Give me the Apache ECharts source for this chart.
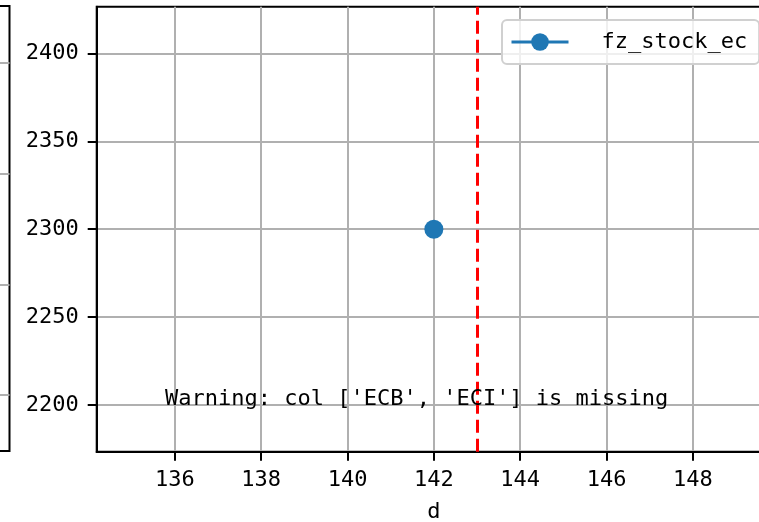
<!DOCTYPE html>
<html>
<head>
<meta charset="utf-8">
<script src="https://cdn.jsdelivr.net/npm/echarts@6/dist/echarts.min.js"></script>
<style>html,body{margin:0;padding:0;background:#fff}#c{width:759px;height:522px}</style>
</head>
<body>
<div id="c"></div>
<script>
// ---- data ----
var seriesName = 'fz_stock_ec';
var stockX = [142];
var stockY = [2300];
var vlineX = [143];
var xTicks = [136, 138, 140, 142, 144, 146, 148];
var yTicks = [2200, 2250, 2300, 2350, 2400];
var xRange = [134.19, 149.81];
var yRange = [2173.5, 2426.5];
var sliverTicks = [56, 166.75, 277.5, 388.25];
var xName = 'd';
var warningText = "Warning: col ['ECB', 'ECI'] is missing";

var FONT = 'DejaVu Sans Mono';
var FS = 22;
var points = stockX.map(function (x, i) { return [x, stockY[i]]; });
function plain(v) { return String(v); }

var chart = echarts.init(document.getElementById('c'), null, {renderer: 'canvas'});
chart.setOption({
  animation: false,
  backgroundColor: '#ffffff',
  textStyle: {fontFamily: FONT},
  title: {
    text: warningText,
    left: 165, top: 388,
    padding: 0,
    textStyle: {fontFamily: FONT, fontSize: FS, fontWeight: 'normal', color: '#000'}
  },
  legend: {
    data: [seriesName],
    left: 502, top: 20,
    padding: [11, 12, 11, 8],
    itemWidth: 57, itemHeight: 22,
    lineStyle: {width: 3},
    borderColor: '#d0d0d0', borderWidth: 2, borderRadius: 5,
    backgroundColor: 'rgba(255,255,255,0.8)',
    textStyle: {fontFamily: FONT, fontSize: FS, color: '#000', padding: [0, 0, 0, 28]}
  },
  grid: [
    {left: 96.7, top: 6.7, right: -12, bottom: 70.3, show: true, borderColor: '#000', borderWidth: 2,
     containLabel: false, outerBoundsMode: 'none'},
    {left: -300, top: 6, right: 749.5, bottom: 71, show: true, borderColor: '#000', borderWidth: 2,
     containLabel: false, outerBoundsMode: 'none'}
  ],
  xAxis: [
    {
      type: 'value', gridIndex: 0, min: xRange[0], max: xRange[1],
      name: xName, nameLocation: 'middle', nameGap: 50,
      nameTextStyle: {fontFamily: FONT, fontSize: FS, color: '#000'},
      axisLine: {show: true, onZero: false, lineStyle: {color: '#000', width: 2}},
      axisTick: {show: true, length: 9, customValues: xTicks, lineStyle: {color: '#000', width: 2}},
      axisLabel: {show: true, customValues: xTicks, formatter: plain, margin: 18, fontFamily: FONT, fontSize: FS, color: '#000'},
      splitLine: {show: true, lineStyle: {color: '#b0b0b0', width: 2}}
    },
    {
      type: 'value', gridIndex: 1, min: 0, max: 1,
      axisLine: {show: false}, axisTick: {show: false}, axisLabel: {show: false}, splitLine: {show: false}
    }
  ],
  yAxis: [
    {
      type: 'value', gridIndex: 0, min: yRange[0], max: yRange[1],
      axisLine: {show: true, onZero: false, lineStyle: {color: '#000', width: 2}},
      axisTick: {show: true, length: 9, customValues: yTicks, lineStyle: {color: '#000', width: 2}},
      axisLabel: {show: true, customValues: yTicks, formatter: plain, margin: 18, fontFamily: FONT, fontSize: FS, color: '#000'},
      splitLine: {show: true, lineStyle: {color: '#b0b0b0', width: 2}}
    },
    {
      type: 'value', gridIndex: 1, min: 0, max: 445,
      axisLine: {show: false},
      axisTick: {show: false, customValues: sliverTicks},
      axisLabel: {show: false},
      splitLine: {show: true, lineStyle: {color: '#b0b0b0', width: 2}}
    }
  ],
  series: [
    {
      name: seriesName,
      type: 'line',
      xAxisIndex: 0, yAxisIndex: 0,
      data: points,
      symbol: 'circle', symbolSize: 19,
      itemStyle: {color: '#1f77b4'},
      lineStyle: {color: '#1f77b4', width: 3},
      z: 5,
      markLine: {
        silent: true,
        symbol: ['none', 'none'],
        label: {show: false},
        lineStyle: {color: '#ff0000', width: 3, type: [13, 6]},
        data: vlineX.map(function (v) { return {xAxis: v}; })
      }
    }
  ]
});
</script>
</body>
</html>
